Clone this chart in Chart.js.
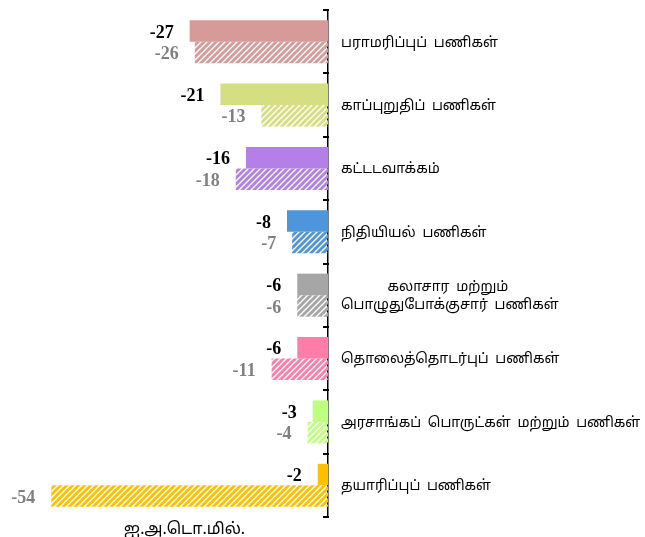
<!DOCTYPE html>
<html>
<head>
<meta charset="utf-8">
<script src="https://cdn.jsdelivr.net/npm/chart.js@4/dist/chart.umd.min.js"></script>
<style>
  html, body { margin: 0; padding: 0; background: #fff; }
  #chart { display: block; }
</style>
</head>
<body>
<canvas id="chart" width="645" height="537"></canvas>
<script>
// sectors, top to bottom
const sectors = [
  'பராமரிப்புப் பணிகள்',
  'காப்புறுதிப் பணிகள்',
  'கட்டடவாக்கம்',
  'நிதியியல் பணிகள்',
  ['       கலாசார மற்றும்', 'பொழுதுபோக்குசார் பணிகள்'],
  'தொலைத்தொடர்புப் பணிகள்',
  'அரசாங்கப் பொருட்கள் மற்றும் பணிகள்',
  'தயாரிப்புப் பணிகள்'
];
const currentValues = [-27, -21, -16, -8, -6, -6, -3, -2];
const previousValues = [-26, -13, -18, -7, -6, -11, -4, -54];
const sectorColors = ['#D69A99', '#D5DE80', '#B480E8', '#4F95DB', '#A6A6A6', '#FF7EA9', '#BFFF80', '#FFC000'];

const tamilFont = '"Noto Sans Tamil", "Noto Sans", sans-serif';

// diagonal stripe fill for the second series
function stripes(color) {
  const size = 6;
  const c = document.createElement('canvas');
  c.width = size;
  c.height = size;
  const g = c.getContext('2d');
  g.strokeStyle = color;
  g.lineWidth = 2.9;
  g.beginPath();
  g.moveTo(0, size); g.lineTo(size, 0);
  g.moveTo(-1, 1); g.lineTo(1, -1);
  g.moveTo(size - 1, size + 1); g.lineTo(size + 1, size - 1);
  g.stroke();
  return g.createPattern(c, 'repeat');
}

// a little extra room between words in the Tamil labels
const wordGap = {
  id: 'wordGap',
  beforeInit(chart) { chart.ctx.wordSpacing = '3px'; },
  beforeDraw(chart) { chart.ctx.wordSpacing = '3px'; }
};

// value text beside each bar, plus short inward ticks on the category axis
const valueLabels = {
  id: 'valueLabels',
  afterDatasetsDraw(chart) {
    const ctx = chart.ctx;
    const y = chart.scales.y;
    const n = chart.data.labels.length;
    const step = (y.bottom - y.top) / n;
    const x0 = Math.round(y.left);
    ctx.save();
    ctx.fillStyle = '#000';
    for (let i = 0; i <= n; i++) {
      const py = Math.round(y.top + i * step);
      ctx.fillRect(x0 - 5, py - 1, 6, 2);
    }
    ctx.restore();

    chart.data.datasets.forEach((ds, i) => {
      const meta = chart.getDatasetMeta(i);
      meta.data.forEach((bar, j) => {
        ctx.save();
        ctx.font = 'bold 18px "Liberation Serif", "Times New Roman", serif';
        ctx.fillStyle = i === 0 ? '#000' : '#808080';
        ctx.textAlign = 'right';
        ctx.textBaseline = 'middle';
        ctx.fillText(ds.data[j], bar.x - 16, bar.y + 2);
        ctx.restore();
      });
    });
  }
};

new Chart(document.getElementById('chart'), {
  type: 'bar',
  data: {
    labels: sectors,
    datasets: [
      {
        data: currentValues,
        backgroundColor: sectorColors,
        categoryPercentage: 0.68,
        barPercentage: 1
      },
      {
        data: previousValues,
        backgroundColor: sectorColors.map(stripes),
        categoryPercentage: 0.68,
        barPercentage: 1
      }
    ]
  },
  options: {
    indexAxis: 'y',
    responsive: false,
    animation: false,
    layout: { padding: { left: 41, top: 10, right: 0, bottom: 0 } },
    plugins: {
      legend: { display: false },
      tooltip: { enabled: false }
    },
    scales: {
      x: {
        min: -56,
        max: 0,
        ticks: { display: false },
        grid: { display: false, drawTicks: false },
        border: { display: false },
        title: {
          display: true,
          text: 'ஐ.அ.டொ.மில்.',
          color: '#000',
          font: { family: tamilFont, size: 16 },
          padding: { top: 0, bottom: -3 }
        },
        afterFit(scale) {
          scale.height = 20;
          scale.paddingLeft = 0;
          scale.paddingRight = 0;
        }
      },
      y: {
        position: 'right',
        grid: { display: false, drawTicks: false },
        border: { display: true, color: '#000', width: 1.5 },
        ticks: {
          color: '#000',
          padding: 13,
          labelOffset: 2,
          font: { family: tamilFont, size: 14, lineHeight: 1.3 }
        },
        afterFit(scale) {
          scale.width = 317;
          scale.paddingTop = 0;
          scale.paddingBottom = 0;
        }
      }
    }
  },
  plugins: [wordGap, valueLabels]
});
</script>
</body>
</html>
